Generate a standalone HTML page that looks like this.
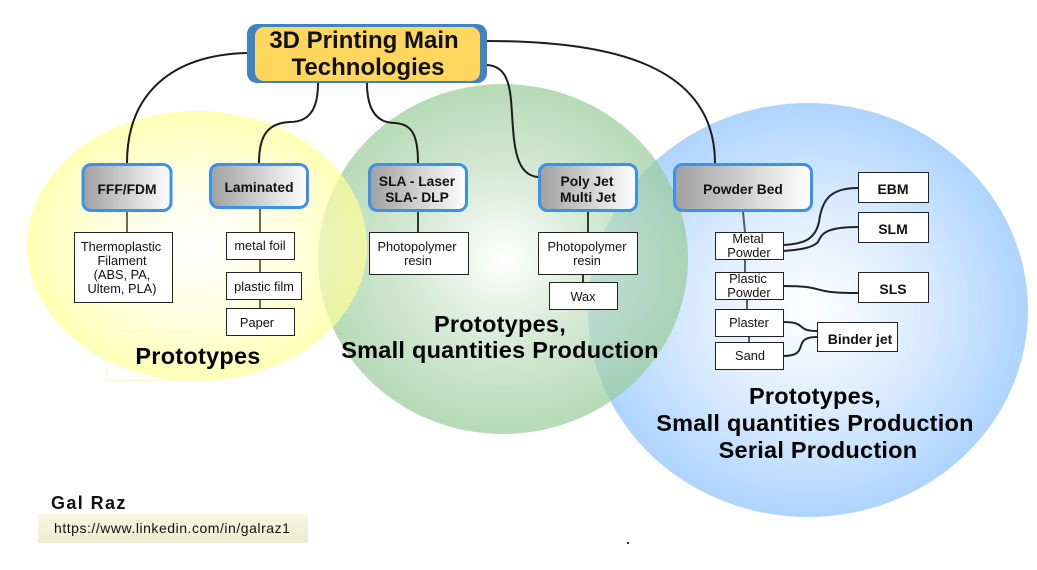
<!DOCTYPE html>
<html><head><meta charset="utf-8"><style>
html,body{margin:0;padding:0;background:#fff}
svg{display:block}
text{font-family:"Liberation Sans",sans-serif;fill:#111;text-anchor:middle}
.b{font-weight:bold}
.h{font-weight:bold;font-size:23.5px;letter-spacing:.25px;fill:#000}
</style></head><body>
<svg width="1037" height="570" viewBox="0 0 1037 570" xmlns="http://www.w3.org/2000/svg">
<defs>
<radialGradient id="gy"><stop offset="0" stop-color="#fff" stop-opacity=".7"/><stop offset=".5" stop-color="#ffffd8" stop-opacity=".7"/><stop offset="1" stop-color="#ffff96" stop-opacity=".7"/></radialGradient>
<radialGradient id="gg"><stop offset="0" stop-color="#fff" stop-opacity=".7"/><stop offset=".5" stop-color="#c3e0c3" stop-opacity=".7"/><stop offset="1" stop-color="#97cb97" stop-opacity=".7"/></radialGradient>
<radialGradient id="gb"><stop offset="0" stop-color="#fff"/><stop offset=".55" stop-color="#d8eaff"/><stop offset="1" stop-color="#aed4ff"/></radialGradient>
<linearGradient id="gn"><stop offset="0" stop-color="#a0a0a0"/><stop offset="1" stop-color="#fff"/></linearGradient>
<linearGradient id="gu" x1="0" y1="0" x2="0" y2="1"><stop offset="0" stop-color="#f8f8e4"/><stop offset="1" stop-color="#ecedcf"/></linearGradient>
</defs>
<ellipse cx="808" cy="310" rx="220" ry="207" fill="url(#gb)"/>
<ellipse cx="503" cy="259" rx="185" ry="175" fill="url(#gg)"/>
<ellipse cx="197" cy="246" rx="170" ry="135" fill="url(#gy)"/>
<rect x="106.500" y="331.500" width="91" height="49" fill="none" stroke="#fdf6d8"/>

<g fill="none" stroke="#1c1c1c" stroke-width="2">
<path d="M247 53C170 55 127 95 127 163"/>
<path d="M318 83C318 105 312 122 290 122C268 123 259 135 259 163"/>
<path d="M367 83C367 108 375 123 395 123C412 124 418 135 418 163"/>
<path d="M487 65C503 66 509 78 511 100C514 135 512 175 538 177"/>
<path d="M487 41C600 41 715 60 715 163"/>
</g>
<g fill="none" stroke="#6d6d4a" stroke-width="2">
<path d="M127 212V232M260 209V308"/>
</g>
<g fill="none" stroke="#2b3a33" stroke-width="2">
<path d="M418 212V232M588 212V232M583 275V282"/>
</g>
<g fill="none" stroke="#4b5f75" stroke-width="2">
<path d="M743 212L745 232M745 260V272M747 300V309M749 336V342"/>
</g>
<g fill="none" stroke="#222" stroke-width="2">
<path d="M783 245C803 244 815 240 819 222C822 198 832 188 858 188"/>
<path d="M783 251C795 250 810 249 817 243C822 238 818 227 858 227"/>
<path d="M783 286C830 286 805 293 858 293"/>
<path d="M783 322C808 322 795 331 817 331"/>
<path d="M783 356C812 356 790 337 817 337"/>
</g>

<rect x="247" y="24" width="240" height="59" rx="10" fill="#3f83c4"/>
<rect x="255" y="27" width="225" height="54" rx="9" fill="#ffd65e"/>
<text class="b" x="364" y="48" font-size="24">3D Printing Main</text>
<text class="b" x="368" y="75" font-size="24">Technologies</text>

<g fill="url(#gn)" stroke="#3a92ee" stroke-width="3">
<rect x="83" y="164.500" width="88" height="46" rx="8"/>
<rect x="210.500" y="164.500" width="97" height="43" rx="8"/>
<rect x="369.500" y="164.500" width="97" height="46" rx="8"/>
<rect x="539.500" y="164.500" width="97" height="46" rx="8"/>
<rect x="674.500" y="164.500" width="137" height="46" rx="8"/>
</g>
<g font-size="13.800">
<text class="b" x="127" y="194">FFF/FDM</text>
<text class="b" x="259" y="192">Laminated</text>
<text class="b" x="417" y="186">SLA - Laser</text>
<text class="b" x="417" y="202">SLA- DLP</text>
<text class="b" x="587" y="186">Poly Jet</text>
<text class="b" x="588" y="202">Multi Jet</text>
<text class="b" x="743" y="194">Powder Bed</text>
</g>

<g fill="#fff" stroke="#222" stroke-width="1">
<rect x="74.500" y="232.500" width="98" height="70"/>
<rect x="226.500" y="232.500" width="68" height="27"/>
<rect x="226.500" y="272.500" width="75" height="27"/>
<rect x="226.500" y="308.500" width="68" height="27"/>
<rect x="369.500" y="232.500" width="99" height="42"/>
<rect x="538.500" y="232.500" width="99" height="42"/>
<rect x="549.500" y="282.500" width="68" height="27"/>
<rect x="715.500" y="232.500" width="68" height="27"/>
<rect x="715.500" y="272.500" width="68" height="27"/>
<rect x="715.500" y="309.500" width="68" height="27"/>
<rect x="715.500" y="342.500" width="68" height="27"/>
<rect x="858.500" y="172.500" width="70" height="30"/>
<rect x="858.500" y="212.500" width="70" height="30"/>
<rect x="858.500" y="272.500" width="70" height="30"/>
<rect x="817.500" y="322.500" width="80" height="29"/>
</g>
<g font-size="12.800">
<text x="121" y="251">Thermoplastic</text>
<text x="122" y="265">Filament</text>
<text x="122" y="279">(ABS, PA,</text>
<text x="122" y="293">Ultem, PLA)</text>
<text x="260" y="250">metal foil</text>
<text x="264" y="291">plastic film</text>
<text x="257" y="327">Paper</text>
<text x="417" y="251">Photopolymer</text>
<text x="418" y="265">resin</text>
<text x="587" y="251">Photopolymer</text>
<text x="587" y="265">resin</text>
<text x="583" y="301">Wax</text>
<text x="748" y="243">Metal</text>
<text x="749" y="257">Powder</text>
<text x="748" y="283">Plastic</text>
<text x="749" y="297">Powder</text>
<text x="749" y="327">Plaster</text>
<text x="750" y="360">Sand</text>
</g>
<g font-size="14">
<text class="b" x="893" y="194">EBM</text>
<text class="b" x="893" y="234">SLM</text>
<text class="b" x="893" y="294">SLS</text>
<text class="b" x="860" y="344">Binder jet</text>
</g>
<text class="h" x="198" y="364">Prototypes</text>
<text class="h" x="500" y="332">Prototypes,</text>
<text class="h" x="500" y="358">Small quantities Production</text>
<text class="h" x="815" y="404">Prototypes,</text>
<text class="h" x="815" y="431">Small quantities Production</text>
<text class="h" x="818" y="458">Serial Production</text>

<rect x="38" y="513" width="270" height="30" fill="url(#gu)"/>
<text class="b" x="51" y="509" font-size="18" letter-spacing="1.4" style="text-anchor:start">Gal Raz</text>
<text x="54" y="533" font-size="14" letter-spacing=".53" style="text-anchor:start">https://www.linkedin.com/in/galraz1</text>
<rect x="627" y="542" width="2" height="2" fill="#333"/>
</svg>
</body></html>
